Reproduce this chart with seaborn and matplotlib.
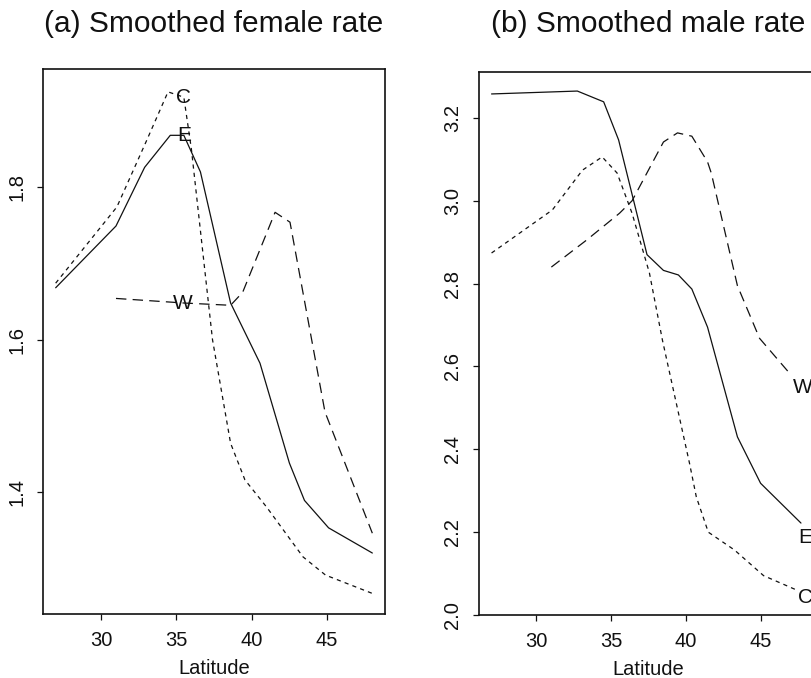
import matplotlib
matplotlib.use("Agg")
import matplotlib.pyplot as plt
import seaborn as sns

# ---- female rates (panel a) ----
lat_e_f = [27.0, 31.0, 32.9, 34.6, 35.5, 36.6, 38.6, 40.55, 42.5, 43.5, 45.1, 48.0]
rate_e_f = [1.668, 1.749, 1.826, 1.868, 1.868, 1.82, 1.648, 1.569, 1.438, 1.389, 1.353, 1.32]

lat_c_f = [27.0, 31.06, 33.05, 34.45, 35.5, 36.0, 37.4, 38.6, 39.55, 41.0, 43.4, 44.9, 48.0]
rate_c_f = [1.674, 1.774, 1.862, 1.925, 1.918, 1.85, 1.6, 1.464, 1.416, 1.38, 1.315, 1.291, 1.267]

lat_w_f = [31.0, 35.5, 38.6, 39.4, 41.55, 42.54, 44.86, 48.0]
rate_w_f = [1.654, 1.648, 1.645, 1.662, 1.767, 1.754, 1.505, 1.346]

# ---- male rates (panel b) ----
lat_e_m = [27.0, 32.74, 34.5, 35.5, 37.4, 38.5, 39.5, 40.4, 41.45, 43.45, 45.0, 47.7]
rate_e_m = [3.258, 3.265, 3.239, 3.147, 2.87, 2.832, 2.821, 2.787, 2.695, 2.43, 2.318, 2.222]

lat_c_m = [27.0, 31.07, 33.08, 34.4, 35.4, 36.4, 37.56, 38.43, 38.77, 40.24, 40.7, 41.5,
           43.25, 45.2, 47.3]
rate_c_m = [2.874, 2.978, 3.074, 3.106, 3.067, 2.97, 2.826, 2.664, 2.608, 2.367, 2.285, 2.2,
            2.157, 2.095, 2.062]

lat_w_m = [31.0, 33.35, 35.56, 36.4, 38.5, 39.44, 40.4, 41.45, 41.7, 43.45, 44.93, 46.93]
rate_w_m = [2.84, 2.905, 2.97, 3.0, 3.142, 3.164, 3.156, 3.094, 3.067, 2.795, 2.668, 2.584]

# region labels: (name, latitude, rate)
labels_f = [("C", 35.5, 1.918), ("E", 35.5, 1.868), ("W", 35.4, 1.648)]
labels_m = [("W", 47.8, 2.55), ("E", 48.0, 2.186), ("C", 48.0, 2.043)]

titles = ["(a) Smoothed female rate", "(b) Smoothed male rate"]
yticks_f = [1.4, 1.6, 1.8]
yticks_m = [2.0, 2.2, 2.4, 2.6, 2.8, 3.0, 3.2]
xticks = [30, 35, 40, 45]

sns.set_style("white")
plt.rcParams["font.family"] = ["Liberation Sans", "DejaVu Sans"]
plt.rcParams["lines.scale_dashes"] = False

fig = plt.figure(figsize=(8.11, 6.78), dpi=100)
ax_f = fig.add_axes([43 / 811, 64 / 678, 342 / 811, 545 / 678])
ax_m = fig.add_axes([479 / 811, 63 / 678, 339 / 811, 543 / 678])

ink = "#111111"
styles = {
    "E": dict(linestyle="-"),
    "C": dict(linestyle=(0, (3.0, 3.0))),
    "W": dict(linestyle=(0, (7.5, 4.5))),
}


def draw(ax, series, labels, title, yticks, ylim, title_pad):
    for key, xs, ys in series:
        sns.lineplot(x=xs, y=ys, ax=ax, color=ink, linewidth=0.9, sort=False,
                     estimator=None, **styles[key])
    for name, x, y in labels:
        ax.text(x, y, name, ha="center", va="center", fontsize=15, color=ink)
    ax.set_xlim(26.16, 48.84)
    ax.set_ylim(*ylim)
    ax.set_xticks(xticks)
    ax.set_yticks(yticks)
    ax.set_yticklabels([f"{v:.1f}" for v in yticks])
    ax.tick_params(axis="both", direction="out", length=4, width=0.9, pad=8,
                   labelsize=14.5, colors=ink, bottom=True, left=True)
    ax.tick_params(axis="y", labelrotation=90)
    for lab in ax.get_yticklabels():
        lab.set_va("center")
    for sp in ax.spines.values():
        sp.set_visible(True)
        sp.set_color(ink)
        sp.set_linewidth(1.2)
    ax.set_xlabel("Latitude", fontsize=14.5, labelpad=6.5, color=ink)
    ax.set_ylabel("")
    ax.set_title(title, fontsize=21.5, pad=title_pad, color=ink)


draw(ax_f,
     [("E", lat_e_f, rate_e_f), ("C", lat_c_f, rate_c_f), ("W", lat_w_f, rate_w_f)],
     labels_f, titles[0], yticks_f, (1.240, 1.955), 26.5)
draw(ax_m,
     [("E", lat_e_m, rate_e_m), ("C", lat_c_m, rate_c_m), ("W", lat_w_m, rate_w_m)],
     labels_m, titles[1], yticks_m, (2.0, 3.311), 28.5)

fig.savefig("out.png", dpi=100)
